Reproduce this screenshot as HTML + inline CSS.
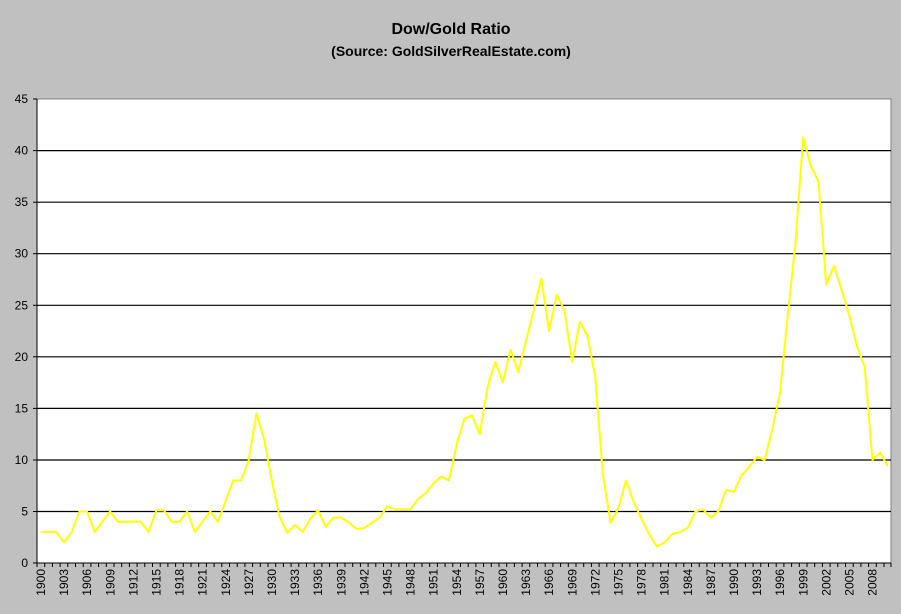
<!DOCTYPE html>
<html><head><meta charset="utf-8"><style>
html,body{margin:0;padding:0;background:#c0c0c0;}
svg{display:block;font-family:"Liberation Sans",Arial,sans-serif;}
</style></head><body>
<svg width="901" height="614" xmlns="http://www.w3.org/2000/svg">
<rect width="901" height="614" fill="#c0c0c0"/>
<text x="451" y="34" font-size="16" font-weight="bold" text-anchor="middle">Dow/Gold Ratio</text>
<text x="451" y="56" font-size="14" font-weight="bold" text-anchor="middle">(Source: GoldSilverRealEstate.com)</text>
<rect x="37" y="99" width="854" height="464" fill="#fff" stroke="#808080" stroke-width="1"/>
<g stroke="#000" stroke-width="1.2">
<line x1="37" x2="891" y1="511.5" y2="511.5"/><line x1="37" x2="891" y1="460" y2="460"/>
<line x1="37" x2="891" y1="408.4" y2="408.4"/><line x1="37" x2="891" y1="356.8" y2="356.8"/>
<line x1="37" x2="891" y1="305.3" y2="305.3"/><line x1="37" x2="891" y1="253.7" y2="253.7"/>
<line x1="37" x2="891" y1="202.2" y2="202.2"/><line x1="37" x2="891" y1="150.6" y2="150.6"/>
</g>
<line x1="37" x2="37" y1="99" y2="563" stroke="#000"/>
<line x1="37" x2="891" y1="563" y2="563" stroke="#000"/>
<g font-size="12" text-anchor="end">
<text x="28" y="567">0</text><text x="28" y="515.5">5</text><text x="28" y="464">10</text>
<text x="28" y="412.4">15</text><text x="28" y="360.8">20</text><text x="28" y="309.3">25</text>
<text x="28" y="257.7">30</text><text x="28" y="206.2">35</text><text x="28" y="154.6">40</text>
<text x="28" y="103">45</text>
</g>
<g stroke="#000"><line x1="33" x2="37" y1="563" y2="563"/><line x1="33" x2="37" y1="511.5" y2="511.5"/><line x1="33" x2="37" y1="460" y2="460"/><line x1="33" x2="37" y1="408.4" y2="408.4"/><line x1="33" x2="37" y1="356.8" y2="356.8"/><line x1="33" x2="37" y1="305.3" y2="305.3"/><line x1="33" x2="37" y1="253.7" y2="253.7"/><line x1="33" x2="37" y1="202.2" y2="202.2"/><line x1="33" x2="37" y1="150.6" y2="150.6"/><line x1="33" x2="37" y1="99" y2="99"/></g>
<path d="M37 563v4M44.7 563v4M52.4 563v4M60.1 563v4M67.8 563v4M75.5 563v4M83.2 563v4M90.9 563v4M98.6 563v4M106.3 563v4M114 563v4M121.7 563v4M129.4 563v4M137.1 563v4M144.8 563v4M152.5 563v4M160.2 563v4M167.9 563v4M175.6 563v4M183.3 563v4M191 563v4M198.7 563v4M206.4 563v4M214.1 563v4M221.8 563v4M229.5 563v4M237.2 563v4M244.9 563v4M252.6 563v4M260.3 563v4M268 563v4M275.7 563v4M283.4 563v4M291.1 563v4M298.8 563v4M306.5 563v4M314.2 563v4M321.9 563v4M329.6 563v4M337.3 563v4M345 563v4M352.7 563v4M360.4 563v4M368.1 563v4M375.8 563v4M383.5 563v4M391.2 563v4M398.9 563v4M406.6 563v4M414.3 563v4M422 563v4M429.7 563v4M437.4 563v4M445.1 563v4M452.8 563v4M460.5 563v4M468.2 563v4M475.9 563v4M483.6 563v4M491.3 563v4M499 563v4M506.7 563v4M514.4 563v4M522.1 563v4M529.8 563v4M537.5 563v4M545.2 563v4M552.9 563v4M560.6 563v4M568.3 563v4M576 563v4M583.7 563v4M591.4 563v4M599.1 563v4M606.8 563v4M614.5 563v4M622.2 563v4M629.9 563v4M637.6 563v4M645.3 563v4M653 563v4M660.7 563v4M668.4 563v4M676.1 563v4M683.8 563v4M691.5 563v4M699.2 563v4M706.9 563v4M714.6 563v4M722.3 563v4M730 563v4M737.7 563v4M745.4 563v4M753.1 563v4M760.8 563v4M768.5 563v4M776.2 563v4M783.9 563v4M791.6 563v4M799.3 563v4M807 563v4M814.7 563v4M822.4 563v4M830.1 563v4M837.8 563v4M845.5 563v4M853.2 563v4M860.9 563v4M868.6 563v4M876.3 563v4M884 563v4M891 563v4" stroke="#000" stroke-width="1"/>
<g font-size="12" text-anchor="end">
<text transform="translate(45,569) rotate(-90)">1900</text>
<text transform="translate(68.1,569) rotate(-90)">1903</text>
<text transform="translate(91.2,569) rotate(-90)">1906</text>
<text transform="translate(114.3,569) rotate(-90)">1909</text>
<text transform="translate(137.4,569) rotate(-90)">1912</text>
<text transform="translate(160.5,569) rotate(-90)">1915</text>
<text transform="translate(183.6,569) rotate(-90)">1918</text>
<text transform="translate(206.7,569) rotate(-90)">1921</text>
<text transform="translate(229.8,569) rotate(-90)">1924</text>
<text transform="translate(252.9,569) rotate(-90)">1927</text>
<text transform="translate(276,569) rotate(-90)">1930</text>
<text transform="translate(299.1,569) rotate(-90)">1933</text>
<text transform="translate(322.2,569) rotate(-90)">1936</text>
<text transform="translate(345.3,569) rotate(-90)">1939</text>
<text transform="translate(368.4,569) rotate(-90)">1942</text>
<text transform="translate(391.5,569) rotate(-90)">1945</text>
<text transform="translate(414.6,569) rotate(-90)">1948</text>
<text transform="translate(437.7,569) rotate(-90)">1951</text>
<text transform="translate(460.8,569) rotate(-90)">1954</text>
<text transform="translate(483.9,569) rotate(-90)">1957</text>
<text transform="translate(507,569) rotate(-90)">1960</text>
<text transform="translate(530.1,569) rotate(-90)">1963</text>
<text transform="translate(553.2,569) rotate(-90)">1966</text>
<text transform="translate(576.3,569) rotate(-90)">1969</text>
<text transform="translate(599.4,569) rotate(-90)">1972</text>
<text transform="translate(622.5,569) rotate(-90)">1975</text>
<text transform="translate(645.6,569) rotate(-90)">1978</text>
<text transform="translate(668.7,569) rotate(-90)">1981</text>
<text transform="translate(691.8,569) rotate(-90)">1984</text>
<text transform="translate(714.9,569) rotate(-90)">1987</text>
<text transform="translate(738,569) rotate(-90)">1990</text>
<text transform="translate(761.1,569) rotate(-90)">1993</text>
<text transform="translate(784.2,569) rotate(-90)">1996</text>
<text transform="translate(807.3,569) rotate(-90)">1999</text>
<text transform="translate(830.4,569) rotate(-90)">2002</text>
<text transform="translate(853.5,569) rotate(-90)">2005</text>
<text transform="translate(876.6,569) rotate(-90)">2008</text>
</g>
<polyline transform="translate(40.85,563) scale(7.7,-10.31)" vector-effect="non-scaling-stroke" fill="none" stroke="#ffff00" stroke-width="2" stroke-linejoin="round"
points="0,3 1,3 2,3 3,2 4,3 5,5 6,5 7,3 8,4 9,5 10,4 11,4 12,4 13,4 14,3 15,5.1 16,5.1 17,4 18,4 19,5 20,3 21,4 22,5 23,4 24,6 25,8 26,8 27,10 28,14.5 29,12 30,8 31,4.5 32,2.9 33,3.7 34,3 35,4.3 36,5.1 37,3.5 38,4.4 39,4.4 40,3.9 41,3.3 42,3.4 43,3.9 44,4.4 45,5.5 46,5.2 47,5.2 48,5.2 49,6.2 50,6.8 51,7.7 52,8.4 53,8 54,11.5 55,14 56,14.3 57,12.5 58,17 59,19.5 60,17.5 61,20.7 62,18.5 63,21.5 64,24.5 65,27.6 66,22.5 67,26 68,24.5 69,19.5 70,23.4 71,22 72,18 73,8.5 74,3.9 75,5.3 76,8 77,5.9 78,4.3 79,2.8 80,1.6 81,2 82,2.8 83,3 84,3.4 85,5 86,5.2 87,4.4 88,5 89,7.1 90,6.9 91,8.5 92,9.3 93,10.3 94,10 95,13 96,16.5 97,24 98,31 99,41.3 100,38.5 101,37 102,27 103,28.8 104,26.5 105,24 106,21 107,19 108,10 109,10.7 110,9.4"/>
</svg>
</body></html>
